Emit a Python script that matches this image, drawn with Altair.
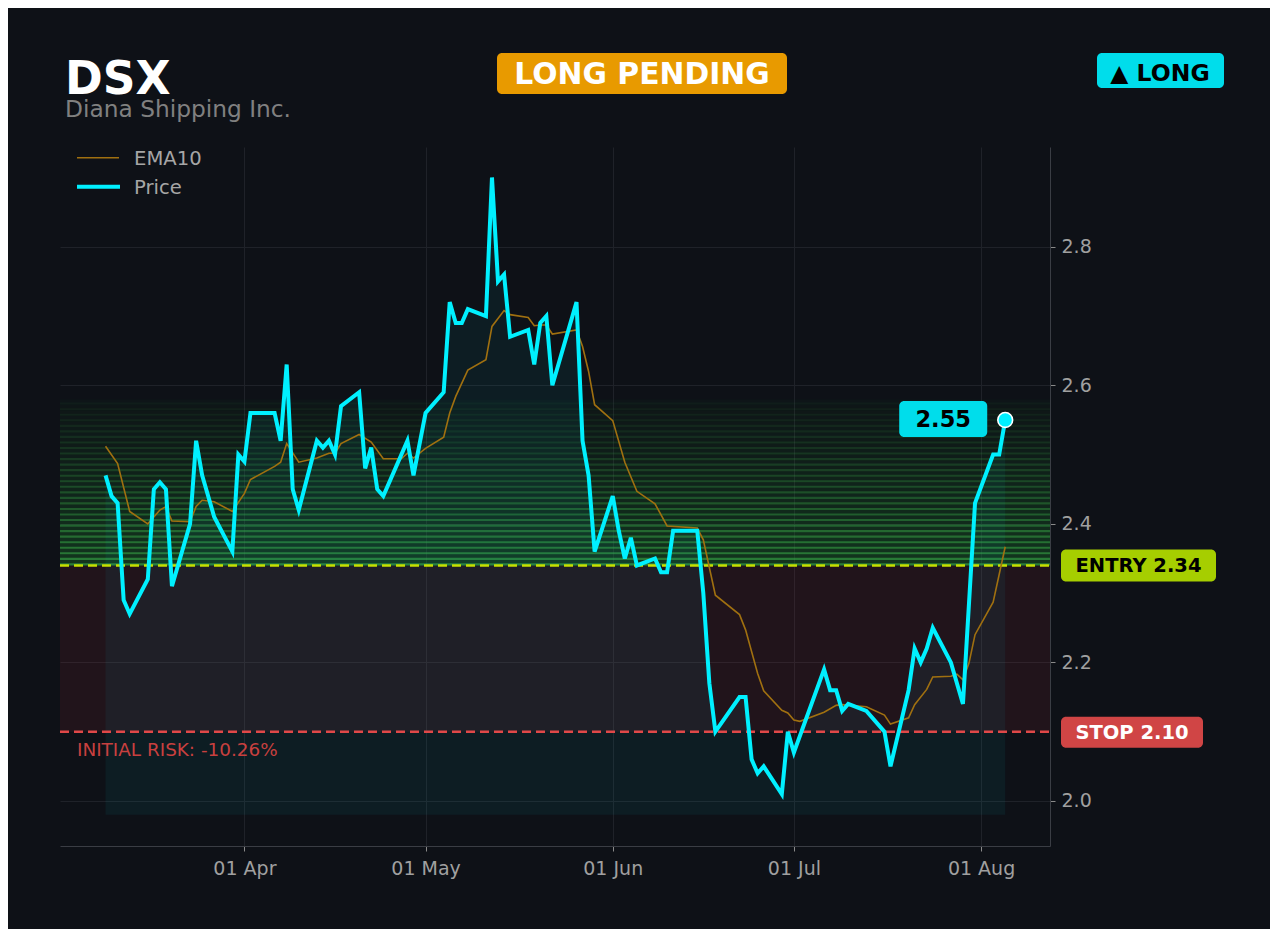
import altair as alt
import pandas as pd

# ---------------- data ----------------
ticker = "DSX"
company = "Diana Shipping Inc."
status_label = "LONG PENDING"
side_label = "▲ LONG"
entry_price = 2.34
stop_price = 2.10

price_dates = ["2026-03-09","2026-03-10","2026-03-11","2026-03-12","2026-03-13",
               "2026-03-16","2026-03-17","2026-03-18","2026-03-19","2026-03-20",
               "2026-03-23","2026-03-24","2026-03-25","2026-03-27",
               "2026-03-30","2026-03-31","2026-04-01","2026-04-02",
               "2026-04-06","2026-04-07","2026-04-08","2026-04-09","2026-04-10",
               "2026-04-13","2026-04-14","2026-04-15","2026-04-16","2026-04-17",
               "2026-04-20","2026-04-21","2026-04-22","2026-04-23","2026-04-24",
               "2026-04-28","2026-04-29","2026-05-01",
               "2026-05-04","2026-05-05","2026-05-06","2026-05-07","2026-05-08",
               "2026-05-11","2026-05-12","2026-05-13","2026-05-14","2026-05-15",
               "2026-05-18","2026-05-19","2026-05-20","2026-05-21","2026-05-22",
               "2026-05-26","2026-05-27","2026-05-28","2026-05-29",
               "2026-06-01","2026-06-02","2026-06-03","2026-06-04","2026-06-05",
               "2026-06-08","2026-06-09","2026-06-10","2026-06-11",
               "2026-06-15","2026-06-16","2026-06-17","2026-06-18",
               "2026-06-22","2026-06-23","2026-06-24","2026-06-25","2026-06-26",
               "2026-06-29","2026-06-30","2026-07-01",
               "2026-07-06","2026-07-07","2026-07-08","2026-07-09","2026-07-10",
               "2026-07-13","2026-07-16","2026-07-17",
               "2026-07-20","2026-07-21","2026-07-22","2026-07-23","2026-07-24",
               "2026-07-27","2026-07-29","2026-07-31",
               "2026-08-03","2026-08-04","2026-08-05"]
price_vals = [2.47, 2.44, 2.43, 2.29, 2.27,
              2.32, 2.45, 2.46, 2.45, 2.31,
              2.40, 2.52, 2.47, 2.41,
              2.36, 2.50, 2.49, 2.56,
              2.56, 2.52, 2.63, 2.45, 2.42,
              2.52, 2.51, 2.52, 2.50, 2.57,
              2.59, 2.48, 2.51, 2.45, 2.44,
              2.52, 2.47, 2.56,
              2.59, 2.72, 2.69, 2.69, 2.71,
              2.70, 2.90, 2.75, 2.76, 2.67,
              2.68, 2.63, 2.69, 2.70, 2.60,
              2.72, 2.52, 2.47, 2.36,
              2.44, 2.39, 2.35, 2.38, 2.34,
              2.35, 2.33, 2.33, 2.39,
              2.39, 2.30, 2.17, 2.10,
              2.15, 2.15, 2.06, 2.04, 2.05,
              2.01, 2.10, 2.07,
              2.19, 2.16, 2.16, 2.13, 2.14,
              2.13, 2.10, 2.05,
              2.16, 2.22, 2.20, 2.22, 2.25,
              2.20, 2.14, 2.43,
              2.50, 2.50, 2.55]

ema_dates = ["2026-03-09","2026-03-11","2026-03-13","2026-03-16","2026-03-18","2026-03-19",
             "2026-03-20","2026-03-23","2026-03-24","2026-03-25","2026-03-27","2026-03-30",
             "2026-04-01","2026-04-02","2026-04-06","2026-04-07","2026-04-08","2026-04-10",
             "2026-04-13","2026-04-15","2026-04-16","2026-04-17","2026-04-20","2026-04-22",
             "2026-04-24","2026-04-27","2026-04-28","2026-04-29",
             "2026-05-01","2026-05-04","2026-05-05","2026-05-06","2026-05-08","2026-05-11",
             "2026-05-12","2026-05-14","2026-05-15","2026-05-18","2026-05-19","2026-05-20",
             "2026-05-21","2026-05-22","2026-05-26","2026-05-27","2026-05-28","2026-05-29",
             "2026-06-01","2026-06-03","2026-06-05","2026-06-08","2026-06-10","2026-06-15",
             "2026-06-16","2026-06-18","2026-06-22","2026-06-23","2026-06-25","2026-06-26",
             "2026-06-29","2026-06-30",
             "2026-07-01","2026-07-02","2026-07-06","2026-07-08","2026-07-09","2026-07-13",
             "2026-07-16","2026-07-17","2026-07-20","2026-07-21","2026-07-23","2026-07-24",
             "2026-07-27","2026-07-28","2026-07-29","2026-07-30","2026-07-31",
             "2026-08-03","2026-08-05"]
ema_vals = [2.512, 2.487, 2.418, 2.400, 2.420, 2.425,
            2.404, 2.403, 2.425, 2.434, 2.432, 2.418,
            2.444, 2.464, 2.483, 2.489, 2.516, 2.489,
            2.495, 2.502, 2.502, 2.516, 2.529, 2.518,
            2.494, 2.494, 2.502, 2.495,
            2.509, 2.525, 2.560, 2.584, 2.622, 2.637,
            2.685, 2.708, 2.702, 2.698, 2.686, 2.687,
            2.687, 2.674, 2.680, 2.656, 2.620, 2.572,
            2.549, 2.489, 2.447, 2.429, 2.397, 2.394,
            2.377, 2.297, 2.269, 2.247, 2.184, 2.159,
            2.131, 2.127,
            2.117, 2.115, 2.128, 2.138, 2.139, 2.136,
            2.124, 2.111, 2.120, 2.139, 2.161, 2.179,
            2.180, 2.183, 2.175, 2.199, 2.240,
            2.287, 2.367]

y_tick_values = [2.0, 2.2, 2.4, 2.6, 2.8]
x_tick_months = [4, 5, 6, 7, 8]

# ---------------- style ----------------
BG = "#0E1117"
CYAN = "#00F0FF"
BADGE_CYAN = "#00DDEB"
EMA_COLOR = "#A07010"
ENTRY_LINE = "#C6E000"
ENTRY_BADGE = "#A6CE00"
STOP_LINE = "#E04848"
STOP_BADGE = "#D04545"
ORANGE = "#E89A00"
AXIS_TEXT = "#A0A0A0"
FONT = "DejaVu Sans"

W, H = 990, 699
Y_MIN, Y_MAX = 1.935, 2.944
X_MIN = pd.Timestamp("2026-03-01 11:00", tz="UTC").value // 10**6
X_MAX = pd.Timestamp("2026-08-12 10:00", tz="UTC").value // 10**6

x_scale = alt.Scale(type="utc", domain=[X_MIN, X_MAX])
y_scale = alt.Scale(domain=[Y_MIN, Y_MAX], nice=False, zero=False)

x_axis = alt.Axis(
    values=[alt.DateTime(year=2026, month=m, date=1, utc=True) for m in x_tick_months],
    labelExpr="utcFormat(datum.value, '%d %b')", title=None,
    labelColor=AXIS_TEXT, labelFontSize=19, labelFont=FONT, labelPadding=8,
    tickColor="#8A8A8A", tickSize=5, domainColor="#3A3D44",
    grid=True, gridColor="#1F2229",
)
y_axis = alt.Axis(
    orient="right", values=y_tick_values, format=".1f", title=None,
    labelColor=AXIS_TEXT, labelFontSize=19, labelFont=FONT, labelPadding=6,
    tickColor="#8A8A8A", tickSize=5, domainColor="#3A3D44",
    grid=True, gridColor="#1F2229",
)

X = alt.X("date:T", scale=x_scale, axis=x_axis)

price_df = pd.DataFrame({"date": price_dates, "value": price_vals})
ema_df = pd.DataFrame({"date": ema_dates, "value": ema_vals})
last_df = pd.DataFrame({"date": [price_dates[-1]], "value": [price_vals[-1]],
                        "label": [f"{price_vals[-1]:.2f}"]})

# green reward zone stripes (decorative gradient)
N = 30
top = 2.58
step = (top - entry_price) / N
rows = []
for i in range(N):
    t = i / N
    lo = entry_price + i * step
    rows.append({"lo": lo, "hi": lo + step, "op": 0.30 * (1 - t) ** 1.3 + 0.04, "col": "#1C7A2C"})
    rows.append({"lo": lo, "hi": lo + step * 0.38, "op": 0.55 * (1 - t) ** 1.3 + 0.05, "col": "#3AAE48"})
stripes_df = pd.DataFrame(rows)

# ---------------- layers ----------------
red_zone = alt.Chart(pd.DataFrame({"lo": [stop_price], "hi": [entry_price]})).mark_rect(
    color="#D03040", opacity=0.10
).encode(
    x=alt.value(0), x2=alt.value(W),
    y=alt.Y("lo:Q", scale=y_scale, axis=y_axis), y2="hi:Q",
)

stripes = alt.Chart(stripes_df).mark_rect().encode(
    x=alt.value(0), x2=alt.value(W),
    y=alt.Y("lo:Q", scale=y_scale, axis=y_axis), y2="hi:Q",
    color=alt.Color("col:N", scale=None),
    opacity=alt.Opacity("op:Q", scale=None),
)

area = alt.Chart(price_df).mark_area(color=CYAN, opacity=0.055).encode(
    x=X, y=alt.Y("value:Q", scale=y_scale, axis=y_axis), y2=alt.datum(1.98),
)

entry_rule = alt.Chart(pd.DataFrame({"v": [entry_price]})).mark_rule(
    color=ENTRY_LINE, strokeWidth=2.5, strokeDash=[9, 5]
).encode(x=alt.value(0), x2=alt.value(W), y=alt.Y("v:Q", scale=y_scale, axis=y_axis))

stop_rule = alt.Chart(pd.DataFrame({"v": [stop_price]})).mark_rule(
    color=STOP_LINE, strokeWidth=2.5, strokeDash=[9, 5]
).encode(x=alt.value(0), x2=alt.value(W), y=alt.Y("v:Q", scale=y_scale, axis=y_axis))

ema_line = alt.Chart(ema_df).mark_line(color=EMA_COLOR, strokeWidth=1.6).encode(
    x=X, y=alt.Y("value:Q", scale=y_scale, axis=y_axis)
)
price_line = alt.Chart(price_df).mark_line(color=CYAN, strokeWidth=4, strokeJoin="miter").encode(
    x=X, y=alt.Y("value:Q", scale=y_scale, axis=y_axis)
)

last_point = alt.Chart(last_df).mark_circle(
    size=220, fill=CYAN, stroke="white", strokeWidth=1.6, opacity=1
).encode(x=X, y=alt.Y("value:Q", scale=y_scale, axis=y_axis))

last_box = alt.Chart(last_df).mark_rect(
    color=BADGE_CYAN, cornerRadius=5, xOffset=-106, x2Offset=-18, yOffset=-19, y2Offset=17
).encode(x=X, x2="date:T", y=alt.Y("value:Q", scale=y_scale, axis=y_axis), y2="value:Q")
last_text = alt.Chart(last_df).mark_text(
    dx=-62, dy=0, baseline="middle", align="center", font=FONT, fontSize=22.5,
    fontWeight="bold", color="black"
).encode(x=X, y=alt.Y("value:Q", scale=y_scale, axis=y_axis), text="label:N")

lvl_df = pd.DataFrame({"v": [entry_price, stop_price],
                       "label": [f"ENTRY {entry_price:.2f}", f"STOP {stop_price:.2f}"]})
entry_box = alt.Chart(lvl_df.iloc[[0]]).mark_rect(
    color=ENTRY_BADGE, cornerRadius=5, yOffset=-16, y2Offset=16
).encode(x=alt.value(1001), x2=alt.value(1156),
         y=alt.Y("v:Q", scale=y_scale, axis=y_axis), y2="v:Q")
entry_text = alt.Chart(lvl_df.iloc[[0]]).mark_text(
    baseline="middle", align="center", font=FONT, fontSize=19.5, fontWeight="bold",
    color="black", dy=1
).encode(x=alt.value(1078.5), y=alt.Y("v:Q", scale=y_scale, axis=y_axis), text="label:N")
stop_box = alt.Chart(lvl_df.iloc[[1]]).mark_rect(
    color=STOP_BADGE, cornerRadius=5, yOffset=-15, y2Offset=16
).encode(x=alt.value(1001), x2=alt.value(1143),
         y=alt.Y("v:Q", scale=y_scale, axis=y_axis), y2="v:Q")
stop_text = alt.Chart(lvl_df.iloc[[1]]).mark_text(
    baseline="middle", align="center", font=FONT, fontSize=19.5, fontWeight="bold",
    color="white", dy=1
).encode(x=alt.value(1072), y=alt.Y("v:Q", scale=y_scale, axis=y_axis), text="label:N")

risk_pct = (stop_price - entry_price) / entry_price * 100
risk_text = alt.Chart(pd.DataFrame({"v": [stop_price], "label": [f"INITIAL RISK: {risk_pct:.2f}%"]})).mark_text(
    align="left", baseline="alphabetic", dy=24, font=FONT, fontSize=18.4, color="#C8403F"
).encode(x=alt.value(17), y=alt.Y("v:Q", scale=y_scale, axis=y_axis), text="label:N")

# header
hdr = pd.DataFrame({"t": [ticker, company, status_label, side_label]})
title_txt = alt.Chart(hdr.iloc[[0]]).mark_text(
    align="left", baseline="alphabetic", font=FONT, fontSize=45.5, fontWeight="bold", color="white"
).encode(x=alt.value(5), y=alt.value(-53), text="t:N")
sub_txt = alt.Chart(hdr.iloc[[1]]).mark_text(
    align="left", baseline="alphabetic", font=FONT, fontSize=23.3, color="#808080"
).encode(x=alt.value(5), y=alt.value(-30.5), text="t:N")
status_box = alt.Chart(hdr.iloc[[2]]).mark_rect(color=ORANGE, cornerRadius=5).encode(
    x=alt.value(437), x2=alt.value(727), y=alt.value(-94), y2=alt.value(-53))
status_txt = alt.Chart(hdr.iloc[[2]]).mark_text(
    align="center", baseline="alphabetic", font=FONT, fontSize=29.8, fontWeight="bold", color="white"
).encode(x=alt.value(582), y=alt.value(-63), text="t:N")
side_box = alt.Chart(hdr.iloc[[3]]).mark_rect(color=BADGE_CYAN, cornerRadius=5).encode(
    x=alt.value(1037), x2=alt.value(1164), y=alt.value(-94), y2=alt.value(-59))
side_txt = alt.Chart(hdr.iloc[[3]]).mark_text(
    align="center", baseline="alphabetic", font=FONT, fontSize=23.5, fontWeight="bold", color="black"
).encode(x=alt.value(1100), y=alt.value(-66), text="t:N")

# legend
leg = pd.DataFrame({"t": ["EMA10", "Price"]})
leg_ema = alt.Chart(leg.iloc[[0]]).mark_rule(color=EMA_COLOR, strokeWidth=1.6).encode(
    x=alt.value(17), x2=alt.value(59), y=alt.value(10.7))
leg_price = alt.Chart(leg.iloc[[1]]).mark_rule(color=CYAN, strokeWidth=4).encode(
    x=alt.value(17), x2=alt.value(60), y=alt.value(39.7))
leg_t1 = alt.Chart(leg.iloc[[0]]).mark_text(
    align="left", baseline="middle", font=FONT, fontSize=19.6, color="#A6A6A6"
).encode(x=alt.value(74), y=alt.value(11.5), text="t:N")
leg_t2 = alt.Chart(leg.iloc[[1]]).mark_text(
    align="left", baseline="middle", font=FONT, fontSize=19.6, color="#A6A6A6"
).encode(x=alt.value(74), y=alt.value(40.5), text="t:N")

chart = alt.layer(
    red_zone, stripes, area, entry_rule, stop_rule, ema_line, price_line,
    last_point, last_box, last_text,
    entry_box, entry_text, stop_box, stop_text, risk_text,
    title_txt, sub_txt, status_box, status_txt, side_box, side_txt,
    leg_ema, leg_price, leg_t1, leg_t2,
).properties(
    width=W, height=H,
    padding={"left": 52, "top": 139, "right": 220, "bottom": 83},
    autosize=alt.AutoSizeParams(type="none"),
    background=BG,
).configure_view(stroke=None).configure_text(font=FONT)

chart.save("out.html", embed_options={"renderer": "svg", "actions": False})
